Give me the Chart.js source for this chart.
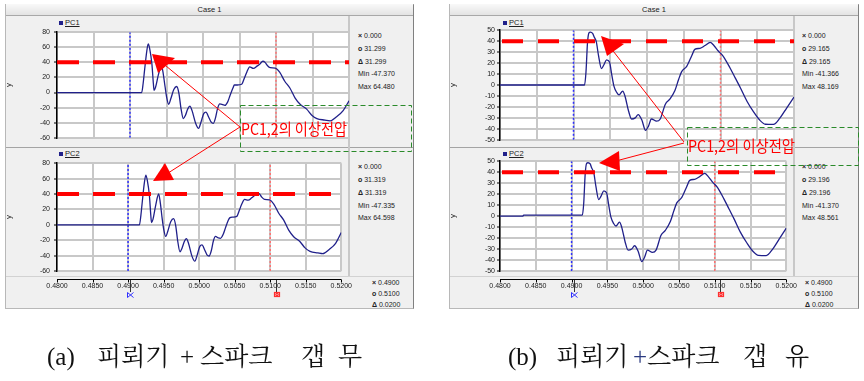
<!DOCTYPE html>
<html><head><meta charset="utf-8">
<script src="https://cdn.jsdelivr.net/npm/chart.js@4/dist/chart.umd.min.js"></script>
<style>
html,body{margin:0;padding:0;background:#fff;width:864px;height:381px;overflow:hidden;font-family:"Liberation Sans",Arial,sans-serif;}
.abs{position:absolute;}
.panel{position:absolute;top:4px;height:305px;background:#f0f0f0;border:1px solid #b8b8b8;border-right-color:#808080;box-sizing:border-box;}
.hdr{position:absolute;top:4px;height:12px;background:linear-gradient(#f9f9f9,#e3e3e3);border-bottom:1px solid #a8a8a8;box-sizing:border-box;font-size:7.5px;line-height:11px;text-align:center;color:#222;}
.line{position:absolute;}
.txt{position:absolute;font-size:7px;color:#222;white-space:pre;line-height:8px;}
.sym{font-weight:bold;}
.leg{position:absolute;font-size:7.5px;color:#222;line-height:8px;text-decoration:underline;}
.legsq{position:absolute;width:4px;height:4px;background:#20208a;}
canvas{position:absolute;z-index:2;}
svg{position:absolute;left:0;top:0;z-index:5;}
</style></head>
<body>
<div class="panel" style="left:5px;width:409px;"></div>
<div class="panel" style="left:449px;width:410px;"></div>
<div class="hdr" style="left:6px;width:407px;">Case 1</div>
<div class="hdr" style="left:450px;width:408px;">Case 1</div>

<div class="line" style="left:6px;top:147px;width:407px;height:1px;background:#a4a4a4;"></div>
<div class="line" style="left:450px;top:147px;width:408px;height:1px;background:#a4a4a4;"></div>
<div class="line" style="left:6px;top:276px;width:407px;height:1px;background:#d2d2d2;"></div>
<div class="line" style="left:450px;top:276px;width:408px;height:1px;background:#d2d2d2;"></div>
<div class="line" style="left:348px;top:16px;width:2px;height:260px;background:#c8c8c8;"></div>
<div class="line" style="left:793px;top:16px;width:2px;height:260px;background:#c8c8c8;"></div>

<div class="legsq" style="left:59px;top:21px;"></div><div class="leg" style="left:65px;top:19px;">PC1</div>
<div class="legsq" style="left:59px;top:152px;"></div><div class="leg" style="left:65px;top:150px;">PC2</div>
<div class="legsq" style="left:503px;top:21px;"></div><div class="leg" style="left:509px;top:19px;">PC1</div>
<div class="legsq" style="left:503px;top:152px;"></div><div class="leg" style="left:509px;top:150px;">PC2</div>

<canvas id="a1" width="355" height="122" style="left:0px;top:24px;"></canvas>
<canvas id="a2" width="355" height="146" style="left:0px;top:155px;"></canvas>
<canvas id="b1" width="356" height="122" style="left:444px;top:24px;"></canvas>
<canvas id="b2" width="356" height="146" style="left:444px;top:155px;"></canvas>

<div id="readouts"></div>

<svg width="864" height="381" style="white-space:pre">
 <g fill="none" stroke="#2a8a2a" stroke-width="1" stroke-dasharray="5,3">
  <rect x="240.5" y="105.5" width="171" height="46"/>
  <rect x="687.5" y="127.5" width="171" height="38"/>
 </g>
 <g stroke="#ff0000" stroke-width="1">
  <line x1="240" y1="127" x2="160" y2="61"/>
  <line x1="240" y1="127" x2="165" y2="175"/>
  <line x1="684" y1="142" x2="610" y2="47"/>
  <line x1="684" y1="143" x2="612" y2="162"/>
 </g>
 <g fill="#ff0000">
  <polygon points="152,54 175,58 158,73"/>
  <polygon points="153,181 165,163 174,180"/>
  <polygon points="601,36 624,44 607,56"/>
  <polygon points="599,163 619,151 620,171"/>
 </g>
 <g font-family="'Noto Sans CJK KR',sans-serif" font-size="16" fill="#ff0000">
  <text x="241" y="134.5" textLength="106" lengthAdjust="spacingAndGlyphs">PC1,2의  이상전압</text>
  <text x="688" y="152" textLength="107" lengthAdjust="spacingAndGlyphs">PC1,2의  이상전압</text>
 </g>
 <g stroke="#333" stroke-width="1">
  <line x1="130.5" y1="280" x2="130.5" y2="292"/>
  <line x1="276.5" y1="280" x2="276.5" y2="292"/>
  <line x1="574.5" y1="280" x2="574.5" y2="292"/>
  <line x1="720.5" y1="280" x2="720.5" y2="292"/>
 </g>
 <g stroke="#3030ff" stroke-width="1" fill="none">
  <path d="M127.5,292.5 L133.5,297.5 M127.5,297.5 L133.5,292.5 M127.5,292.5 L127.5,297.5"/>
  <path d="M571.5,292.5 L577.5,297.5 M571.5,297.5 L577.5,292.5 M571.5,292.5 L571.5,297.5"/>
 </g>
 <g stroke="#ff3030" stroke-width="1.2" fill="none">
  <rect x="274.5" y="292.5" width="5" height="4"/><circle cx="277" cy="294.5" r="1.2"/>
  <rect x="718.5" y="292.5" width="5" height="4"/><circle cx="721" cy="294.5" r="1.2"/>
 </g>
 <g font-size="25" fill="#111">
  <text x="47" y="365" font-family="'Liberation Serif',serif">(a)</text>
  <text x="97" y="365" font-family="'Noto Serif CJK KR','Noto Sans CJK KR',serif">피뢰기</text>
  <text x="180" y="365" font-family="'Liberation Serif',serif">+</text>
  <text x="200" y="365" font-family="'Noto Serif CJK KR','Noto Sans CJK KR',serif">스파크</text>
  <text x="301" y="365" font-family="'Noto Serif CJK KR','Noto Sans CJK KR',serif">갭</text>
  <text x="338" y="365" font-family="'Noto Serif CJK KR','Noto Sans CJK KR',serif">무</text>
  <text x="508" y="365" font-family="'Liberation Serif',serif">(b)</text>
  <text x="556" y="365" font-family="'Noto Serif CJK KR','Noto Sans CJK KR',serif">피뢰기</text>
  <text x="633" y="365" font-family="'Liberation Serif',serif" fill="#2a3a80">+</text>
  <text x="647" y="365" font-family="'Noto Serif CJK KR','Noto Sans CJK KR',serif">스파크</text>
  <text x="743" y="365" font-family="'Noto Serif CJK KR','Noto Sans CJK KR',serif">갭</text>
  <text x="785" y="365" font-family="'Noto Serif CJK KR','Noto Sans CJK KR',serif">유</text>
 </g>
</svg>

<script>
// ---------- data ----------
const xRange = [0.48, 0.52];
const xStep = 0.005;
const cursorX = [0.49, 0.51];
const thresholdLevel = 40;
const yRangeA = [-60, 80];
const yStepA = 20;
const yRangeB = [-50, 50];
const yStepB = 10;

// (a) PC1 [time s, voltage]
const pc1A = [
[0.4800,0],[0.4916,0],[0.4918,12],[0.4920,30],[0.4923,55],[0.4925,64.5],[0.4927,58],[0.4930,38],[0.4932,12],[0.4933,3],
[0.4935,7],[0.4939,24],[0.4943,36],[0.4945,28],[0.4948,8],[0.4950,-5],[0.4953,-15.5],[0.4956,-8],[0.4960,4],[0.4964,8],
[0.4967,-1],[0.4970,-22],[0.4973,-34.5],[0.4976,-30],[0.4979,-22],[0.4982,-18],[0.4985,-24],[0.4990,-41],[0.4994,-47.4],[0.4997,-40],
[0.5001,-28],[0.5004,-26],[0.5008,-33],[0.5011,-39],[0.5014,-41],[0.5017,-34],[0.5020,-21],[0.5023,-15],[0.5027,-16],[0.5030,-17],
[0.5034,-12],[0.5037,-4],[0.5041,6],[0.5043,10],[0.5047,10],[0.5053,11],[0.5057,20],[0.5060,27],[0.5064,34],[0.5069,32],
[0.5074,35],[0.5078,38],[0.5082,41.5],[0.5085,40],[0.5088,36],[0.5092,33],[0.5099,32.5],[0.5105,27],[0.5112,15],[0.5119,6],
[0.5126,-7],[0.5133,-15.5],[0.5142,-22],[0.5149,-30],[0.5156,-34.5],[0.5167,-36.5],[0.5174,-37.5],[0.5183,-32],[0.5192,-24],[0.5200,-11]
];
// (a) PC2
const pc2A = [
[0.4800,0],[0.4916,0],[0.4918,12],[0.4920,30],[0.4923,55],[0.4925,64.6],[0.4927,58],[0.4930,38],[0.4932,12],[0.4933,3],
[0.4935,7],[0.4939,26],[0.4943,40],[0.4945,31],[0.4948,8],[0.4950,-5],[0.4953,-15],[0.4956,-8],[0.4960,4],[0.4964,8],
[0.4967,-1],[0.4970,-22],[0.4973,-35],[0.4976,-30],[0.4979,-22],[0.4982,-18],[0.4985,-24],[0.4990,-41],[0.4994,-47.3],[0.4997,-40],
[0.5001,-28],[0.5004,-26],[0.5008,-33],[0.5011,-39],[0.5014,-40.5],[0.5017,-34],[0.5020,-21],[0.5023,-15],[0.5027,-17],[0.5030,-17.5],
[0.5034,-12],[0.5037,-4],[0.5041,6],[0.5043,9],[0.5047,10],[0.5053,11],[0.5057,20],[0.5060,27],[0.5064,33],[0.5069,32],
[0.5074,35],[0.5078,38],[0.5082,41],[0.5085,40],[0.5088,36],[0.5092,33],[0.5099,32.5],[0.5105,27],[0.5112,15],[0.5119,6],
[0.5126,-7],[0.5133,-15.5],[0.5142,-22],[0.5149,-30],[0.5156,-34.5],[0.5167,-36.5],[0.5174,-37.5],[0.5183,-32],[0.5192,-24],[0.5200,-10]
];
// (b) PC1
const pc1B = [
[0.4800,0],[0.4915,0],[0.4917,12],[0.4919,38],[0.4921,47.5],[0.4923,48.2],[0.4926,47],[0.4928,44],[0.4931,39.5],[0.4934,27],
[0.4938,15],[0.4941,18],[0.4945,23],[0.4949,21],[0.4952,9.5],[0.4955,-1],[0.4959,-7],[0.4962,-9],[0.4967,-5.5],[0.4970,-10],
[0.4975,-24],[0.4979,-31],[0.4984,-30],[0.4988,-27],[0.4993,-32],[0.4998,-41.4],[0.5002,-37.5],[0.5006,-31],[0.5013,-33],[0.5018,-31],
[0.5025,-17.5],[0.5031,-13],[0.5038,-5],[0.5043,5],[0.5047,12],[0.5054,17],[0.5061,27],[0.5065,32.5],[0.5072,33.5],[0.5079,36],
[0.5086,38.9],[0.5091,36],[0.5097,31],[0.5104,26],[0.5113,15.5],[0.5120,6.5],[0.5127,-2.5],[0.5136,-14.8],[0.5145,-24.5],[0.5154,-32.5],
[0.5161,-35.8],[0.5172,-36],[0.5181,-30],[0.5190,-21],[0.5200,-11]
];
// (b) PC2
const pc2B = [
[0.4800,0],[0.4832,0],[0.4833,0.8],[0.4915,0.8],[0.4917,12],[0.4919,38],[0.4921,48],[0.4923,48.6],[0.4926,47.5],[0.4928,44],
[0.4931,39.5],[0.4934,27],[0.4938,15],[0.4941,18],[0.4945,23],[0.4949,21],[0.4952,9.5],[0.4955,-1],[0.4959,-7],[0.4962,-9],
[0.4967,-5.5],[0.4970,-10],[0.4975,-24],[0.4979,-31],[0.4984,-30],[0.4988,-27],[0.4993,-32],[0.4998,-41.4],[0.5002,-37.5],[0.5006,-31],
[0.5013,-33],[0.5018,-31],[0.5025,-17.5],[0.5031,-13],[0.5038,-5],[0.5043,5],[0.5047,12],[0.5054,17],[0.5061,27],[0.5065,32.5],
[0.5072,33.5],[0.5079,36],[0.5086,38.9],[0.5091,36],[0.5097,31],[0.5104,26],[0.5113,15.5],[0.5120,6.5],[0.5127,-2.5],[0.5136,-14.8],
[0.5145,-24.5],[0.5154,-32.5],[0.5161,-35.8],[0.5172,-36],[0.5181,-30],[0.5190,-21],[0.5200,-11]
];

// readout texts beside each plot
const readA1 = [['×','0.000'],['o','31.299'],['Δ','31.299'],['','Min -47.370'],['','Max 64.480']];
const readA2 = [['×','0.000'],['o','31.319'],['Δ','31.319'],['','Min -47.335'],['','Max 64.598']];
const readB1 = [['×','0.000'],['o','29.165'],['Δ','29.165'],['','Min -41.366'],['','Max 48.169']];
const readB2 = [['×','0.000'],['o','29.196'],['Δ','29.196'],['','Min -41.370'],['','Max 48.561']];
const readCursor = [['×','0.4900'],['o','0.5100'],['Δ','0.0200']];

// ---------- readout placement ----------
function putReadout(list, left, ys){
  const host = document.getElementById('readouts');
  list.forEach((r,i)=>{
    const d = document.createElement('div');
    d.className='txt';
    d.style.left = left+'px';
    d.style.top = (ys[i]-4)+'px';
    d.innerHTML = (r[0]?'<span class="sym">'+r[0]+'</span> ':'') + r[1];
    host.appendChild(d);
  });
}
putReadout(readA1, 358, [36,49,62,74,87]);
putReadout(readA2, 358, [167,180,193,206,218]);
putReadout(readB1, 802, [36,49,62,74,87]);
putReadout(readB2, 802, [167,180,193,206,218]);
putReadout(readCursor, 372, [283,294,305]);
putReadout(readCursor, 805, [283,294,305]);

// ---------- chart plugins ----------
const whiteArea = {id:'whiteArea', beforeDraw(c){const a=c.chartArea,g=c.ctx;g.save();g.fillStyle='#fff';g.fillRect(a.left,a.top,a.right-a.left,a.bottom-a.top);g.restore();}};
const xAxisLine = {id:'xAxisLine', afterDraw(c,args,o){
  if(!o || !o.show) return;
  const x=c.scales.x,g=c.ctx,y=Math.round(c.chartArea.bottom+8)+0.5;
  g.save();g.strokeStyle='#000';g.lineWidth=1;g.beginPath();
  g.moveTo(x.left,y);g.lineTo(x.right,y);
  x.ticks.forEach(t=>{const p=Math.round(x.getPixelForValue(t.value))+0.5;g.moveTo(p,y);g.lineTo(p,y+3);});
  g.stroke();g.restore();
}};

const FONT = "'Liberation Sans', Arial, sans-serif";

function makePlot(id, series, yRange, yStep, showX, axisW, labelPad, dash, dashOffset){
  const pts = series.map(p=>({x:p[0], y:p[1]}));
  new Chart(document.getElementById(id), {
    type:'line',
    data:{datasets:[
      {data:[{x:xRange[0],y:thresholdLevel},{x:xRange[1],y:thresholdLevel}], borderColor:'#ff0000', borderWidth:4, borderDash:dash, borderDashOffset:dashOffset, pointRadius:0},
      {data:pts, borderColor:'#20208a', borderWidth:1.3, pointRadius:0, cubicInterpolationMode:'monotone'},
      {data:[{x:cursorX[0],y:yRange[0]},{x:cursorX[0],y:yRange[1]}], borderColor:'#2f2fff', borderWidth:1.5, borderDash:[2,2], pointRadius:0},
      {data:[{x:cursorX[1],y:yRange[0]},{x:cursorX[1],y:yRange[1]}], borderColor:'#ff7070', borderWidth:1.5, borderDash:[2,2], pointRadius:0}
    ]},
    options:{
      animation:false, responsive:false, devicePixelRatio:1,
      layout:{padding:{top:6,right:6,bottom:showX?0:6,left:0}},
      plugins:{legend:{display:false}, tooltip:{enabled:false}, xAxisLine:{show:showX}},
      scales:{
        x:{type:'linear', min:xRange[0], max:xRange[1],
          afterFit:s=>{s.height = showX?30:0;},
          ticks:{display:showX, stepSize:xStep, autoSkip:false, maxRotation:0, padding:3,
                 font:{size:7,family:FONT}, color:'#222', callback:v=>Number(v).toFixed(4)},
          grid:{color:'#c8c8c8', lineWidth:2, drawTicks:showX, tickLength:8, tickColor:'rgba(0,0,0,0)'},
          border:{display:false}},
        y:{min:yRange[0], max:yRange[1],
          afterFit:s=>{s.width = axisW;},
          ticks:{stepSize:yStep, autoSkip:false, padding:labelPad, font:{size:7,family:FONT}, color:'#222'},
          grid:{color:'#c8c8c8', lineWidth:2, drawTicks:true, tickLength:3, tickColor:'#000', tickWidth:1},
          border:{display:true, color:'#000', width:1.5},
          title:{display:true, text:'y', font:{size:8,family:FONT}, color:'#222', padding:{top:4,bottom:0}}}
      }
    },
    plugins:[whiteArea, xAxisLine]
  });
}

makePlot('a1', pc1A, yRangeA, yStepA, false, 57, 4, [22,14], 0);
makePlot('a2', pc2A, yRangeA, yStepA, true, 57, 4, [22,14], 0);
makePlot('b1', pc1B, yRangeB, yStepB, false, 56, 2, [21,15], 34);
makePlot('b2', pc2B, yRangeB, yStepB, true, 56, 2, [21,15], 34);
</script>
</body></html>
